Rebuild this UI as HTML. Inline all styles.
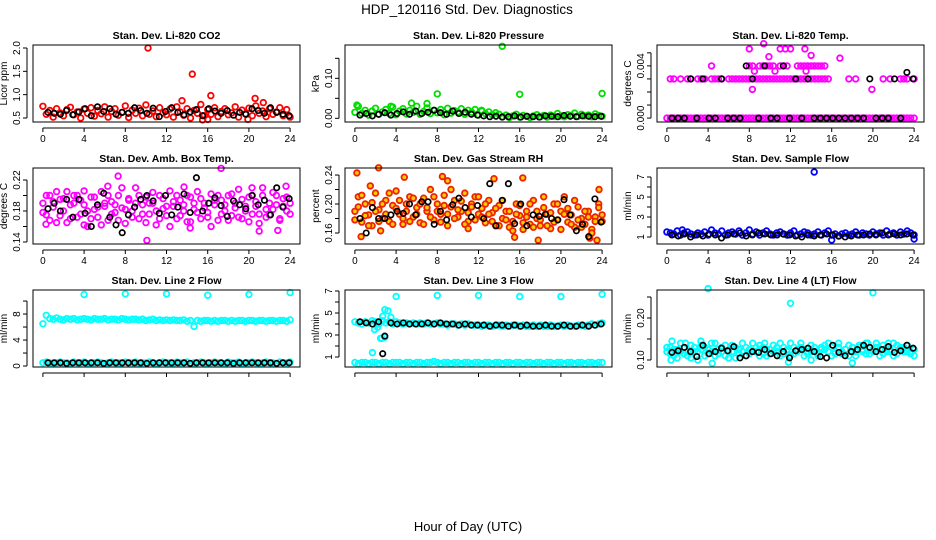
<!DOCTYPE html>
<html><head><meta charset="utf-8"><style>
body{margin:0;background:#fff;}
svg{display:block;font-family:"Liberation Sans",sans-serif;}
</style></head><body>
<svg id="chart" width="936" height="540" viewBox="0 0 936 540" xmlns="http://www.w3.org/2000/svg">
<rect width="936" height="540" fill="#fff"/>
<text x="467" y="14" text-anchor="middle" font-size="13.5">HDP_120116  Std. Dev. Diagnostics</text>
<text x="468" y="531" text-anchor="middle" font-size="13">Hour of Day (UTC)</text>
</svg>
<script>
// ---------- data ----------
const xTicks=[0,4,8,12,16,20,24];
const co2Col=[0.75,0.58,0.66,0.52,0.70,0.61,0.55,0.68,0.73,0.57,0.63,0.50,0.69,0.60,0.72,0.54,0.66,0.59,0.74,0.52,0.64,0.70,0.56,0.62,0.76,0.51,0.67,0.60,0.71,0.55,0.78,0.58,0.65,0.53,0.72,0.61,0.57,0.69,0.52,0.74,0.63,0.56,0.70,0.50,0.66,0.60,0.79,0.55,0.68,0.58,0.72,0.53,0.64,0.70,0.57,0.61,0.74,0.52,0.67,0.59,0.71,0.55,0.76,0.60,0.65,0.53,0.70,0.58,0.63,0.72,0.55,0.68,0.52];
const co2Blk=[0.62,0.60,0.58,0.66,0.57,0.63,0.70,0.55,0.74,0.64,0.70,0.58,0.62,0.60,0.72,0.66,0.60,0.71,0.53,0.64,0.72,0.62,0.57,0.63,0.68,0.55,0.70,0.65,0.60,0.66,0.56,0.62,0.58,0.70,0.66,0.60,0.72,0.62,0.58,0.55];
const co2OutX=[10.2,14.5,13.5,16.3,20.6,21.4,16.0,19.9,15.5];
const co2OutY=[2.0,1.44,0.87,0.98,0.92,0.83,0.47,0.47,0.46];
const presCol=[0.015,0.03,0.012,0.02,0.008,0.018,0.025,0.01,0.016,0.022,0.012,0.028,0.009,0.018,0.024,0.011,0.02,0.015,0.03,0.01,0.017,0.026,0.012,0.02,0.014,0.022,0.009,0.025,0.013,0.019,0.016,0.024,0.01,0.02,0.015,0.022,0.008,0.018,0.012,0.016,0.009,0.014,0.01,0.004,0.008,0.002,0.006,0.01,0.003,0.007,0.005,0.002,0.006,0.009,0.004,0.007,0.003,0.008,0.005,0.012,0.006,0.004,0.009,0.007,0.013,0.005,0.01,0.006,0.008,0.004,0.011,0.007,0.005];
const presBlk=[0.008,0.012,0.006,0.01,0.014,0.008,0.012,0.016,0.01,0.018,0.012,0.015,0.02,0.014,0.01,0.018,0.012,0.015,0.01,0.008,0.006,0.004,0.005,0.003,0.004,0.006,0.003,0.005,0.004,0.003,0.006,0.005,0.004,0.007,0.005,0.004,0.006,0.005,0.004,0.005];
const presOutX=[14.3,16,8,24,5.5,0.2,3.5,7,12.3];
const presOutY=[0.18,0.06,0.061,0.062,0.038,0.033,0.03,0.037,0.02];
const tempZero=[0,0,0,0,0,0,0,0,0,0,0,0,0,0,0,0,0,0,0,0,0,0,0,0,0,0,0,0,0,0,0,0,0,0,0,0,0,0,0,0,0,0,0,0,0,0,0,0,0,0,0,0,0,0,0,0,0,0,0,0,0,0,0,0,0,0,0,0,0,0,0,0,0];
const tempMid=[null,0.003,0.003,null,0.003,null,0.003,0.003,null,0.003,0.003,0.003,null,0.003,0.003,0.003,0.003,null,0.003,0.003,0.003,
0.003,0.003,0.003,0.003,0.003,0.003,0.003,0.003,0.003,0.003,0.003,0.003,0.003,0.003,0.003,0.003,0.003,0.003,0.003,0.003,0.003,0.003,0.003,0.003,0.003,0.003,0.003,
null,null,null,null,null,0.003,null,0.003,null,null,null,null,null,null,null,0.003,null,0.003,null,null,0.003,0.003,0.003,null,0.003];
const tempHigh=[null,null,null,null,null,null,null,null,null,null,null,null,null,0.004,null,null,null,null,null,null,null,null,null,null,
0.004,0.004,null,0.004,0.004,0.004,0.004,0.004,null,0.004,0.004,0.004,null,null,0.004,0.004,0.004,0.004,0.004,0.004,0.004,0.004,0.004,
null,null,null,null,null,null,null,null,null,null,null,null,null,null,null,null,null,null,null,null,null,null,null,null,null,null];
const tempOutX=[8,9.4,9.9,11,11.5,12,13.4,14,16.8,8.5,10.5,13.5,8.3,19.9];
const tempOutY=[0.0053,0.0057,0.0047,0.0053,0.0053,0.0053,0.0053,0.0048,0.0046,0.0036,0.0036,0.0036,0.0022,0.0022];
const tempBlk=[0,0,0,0.003,0,0.003,0,0,0.003,0,0,0,0.004,0.003,0,0.004,0,0,0.004,0,0.003,0,0.003,0,0,0,0,0,0,0,0,0,0.003,0,0,0,0.003,0,0.0035,0.003];
const ambA=[0.19,0.175,0.2,0.185,0.165,0.195,0.18,0.205,0.17,0.19,0.2,0.176,0.188,0.16,0.198,0.182,0.172,0.205,0.186,0.168,0.192,0.178,0.2,0.184,0.164,0.196,0.18,0.21,0.17,0.188,0.198,0.176,0.19,0.162,0.2,0.183,0.174,0.206,0.186,0.17,0.194,0.18,0.2,0.166,0.19,0.178,0.196,0.184,0.172,0.202,0.188,0.168,0.194,0.18,0.2,0.174,0.19,0.208,0.17,0.186,0.198,0.176,0.192,0.164,0.2,0.182,0.175,0.204,0.188,0.17,0.196,0.18,0.19];
const ambB=[0.178,0.2,0.168,0.192,0.205,0.174,0.196,0.165,0.188,0.2,0.172,0.194,0.206,0.18,0.17,0.198,0.185,0.162,0.19,0.2,0.176,0.188,0.168,0.21,0.182,0.194,0.172,0.19,0.2,0.176,0.165,0.19,0.204,0.18,0.17,0.196,0.186,0.16,0.192,0.2,0.174,0.188,0.166,0.198,0.182,0.205,0.17,0.19,0.178,0.16,0.194,0.2,0.176,0.188,0.168,0.202,0.184,0.172,0.195,0.18,0.166,0.2,0.186,0.176,0.21,0.172,0.19,0.182,0.2,0.168,0.186,0.198,0.176];
const ambOutX=[7.3,17.3,10.1,14.3,0.3,4,21,22.8,6.3,13.7,20.3,23.6];
const ambOutY=[0.225,0.235,0.142,0.158,0.163,0.162,0.154,0.155,0.212,0.211,0.21,0.212];
const ambBlk=[0.183,0.19,0.18,0.195,0.172,0.195,0.177,0.16,0.188,0.203,0.172,0.162,0.152,0.175,0.185,0.195,0.2,0.193,0.177,0.2,0.175,0.185,0.202,0.178,0.223,0.18,0.19,0.197,0.187,0.173,0.193,0.188,0.183,0.2,0.188,0.194,0.175,0.21,0.185,0.196];
const rhA=[0.19,0.21,0.175,0.2,0.185,0.17,0.215,0.192,0.18,0.205,0.176,0.198,0.218,0.186,0.172,0.2,0.21,0.182,0.195,0.174,0.208,0.19,0.22,0.178,0.2,0.186,0.212,0.17,0.196,0.205,0.182,0.19,0.215,0.176,0.2,0.21,0.186,0.194,0.174,0.205,0.188,0.17,0.198,0.18,0.19,0.168,0.176,0.2,0.184,0.165,0.19,0.172,0.205,0.18,0.17,0.195,0.186,0.166,0.2,0.178,0.19,0.21,0.175,0.185,0.168,0.196,0.18,0.172,0.19,0.165,0.182,0.2,0.176];
const rhB=[0.178,0.196,0.212,0.184,0.17,0.202,0.19,0.176,0.2,0.186,0.215,0.172,0.194,0.205,0.18,0.19,0.176,0.208,0.186,0.2,0.172,0.195,0.182,0.21,0.19,0.175,0.198,0.186,0.22,0.18,0.192,0.204,0.172,0.188,0.196,0.178,0.21,0.182,0.2,0.186,0.176,0.194,0.17,0.205,0.178,0.19,0.163,0.186,0.198,0.174,0.182,0.2,0.168,0.19,0.178,0.21,0.17,0.188,0.175,0.2,0.165,0.186,0.194,0.172,0.205,0.178,0.168,0.19,0.182,0.16,0.176,0.195,0.185];
const rhOutX=[0.2,2.3,4.8,8.5,9,13.5,16.3,17.8,22.8,23.5,0.6,2.5,11,15.5,23.7,1.5];
const rhOutY=[0.243,0.25,0.237,0.238,0.232,0.235,0.236,0.15,0.153,0.15,0.155,0.163,0.166,0.154,0.22,0.225];
const rhBlk=[0.18,0.16,0.195,0.18,0.18,0.185,0.19,0.187,0.2,0.185,0.203,0.203,0.172,0.19,0.178,0.199,0.208,0.195,0.182,0.198,0.18,0.228,0.17,0.205,0.228,0.173,0.2,0.17,0.185,0.183,0.186,0.18,0.178,0.206,0.185,0.163,0.172,0.155,0.207,0.175];
const flowCol=[1.5,1.4,1.3,1.6,1.2,1.4,1.5,1.3,1.2,1.4,1.3,1.5,1.2,1.7,1.4,1.3,1.6,1.2,1.4,1.5,1.3,1.6,1.2,1.4,1.7,1.3,1.5,1.2,1.4,1.6,1.3,1.2,1.4,1.5,1.3,1.2,1.4,1.6,1.2,1.3,1.5,1.4,1.2,1.3,1.5,1.2,1.4,1.6,1.2,1.3,1.1,1.3,1.4,1.2,1.3,1.5,1.2,1.4,1.3,1.2,1.5,1.3,1.4,1.2,1.6,1.3,1.4,1.2,1.5,1.3,1.6,1.4,1.2];
const flowBlk=[1.2,1.1,1.3,1.0,1.2,1.1,1.3,1.2,0.9,1.2,1.3,1.4,1.1,1.2,1.4,1.3,1.2,1.2,1.3,1.2,1.1,1.0,1.2,1.1,1.2,1.3,1.2,1.1,1.0,1.1,1.2,1.2,1.3,1.2,1.4,1.2,1.3,1.2,1.3,1.2];
const flowOutX=[14.3,16,24,1.5];
const flowOutY=[7.5,0.7,0.8,1.7];
const l2Top=[6.5,7.8,7.3,7.2,7.4,7.2,7.1,7.3,7.2,7.3,7.1,7.2,7.3,7.2,7.1,7.3,7.2,7.2,7.3,7.1,7.2,7.2,7.1,7.3,7.2,7.1,7.2,7.2,7.1,7.2,7.0,7.1,7.2,7.0,7.1,7.0,7.1,7.0,7.1,7.0,7.0,7.1,6.9,7.0,6.1,7.0,6.9,7.0,7.0,6.9,7.0,6.9,7.0,7.0,6.9,7.0,6.9,7.0,7.0,6.9,7.0,7.0,6.9,7.0,7.0,6.9,7.0,7.0,6.9,7.0,7.0,6.9,7.1];
const l2Bot=[0.5,0.6,0.5,0.4,0.5,0.6,0.5,0.5,0.4,0.6,0.5,0.5,0.6,0.4,0.5,0.5,0.6,0.5,0.4,0.5,0.6,0.5,0.5,0.4,0.6,0.5,0.5,0.6,0.4,0.5,0.5,0.6,0.5,0.4,0.5,0.6,0.5,0.5,0.4,0.6,0.5,0.5,0.6,0.4,0.5,0.5,0.6,0.5,0.4,0.5,0.6,0.5,0.5,0.4,0.6,0.5,0.5,0.6,0.4,0.5,0.5,0.6,0.5,0.4,0.5,0.6,0.5,0.5,0.4,0.6,0.5,0.5,0.6];
const l2Blk=[0.5,0.5,0.5,0.4,0.5,0.5,0.5,0.5,0.5,0.4,0.5,0.5,0.5,0.5,0.5,0.5,0.4,0.5,0.5,0.5,0.5,0.5,0.5,0.4,0.5,0.5,0.5,0.5,0.5,0.5,0.4,0.5,0.5,0.5,0.5,0.5,0.5,0.4,0.5,0.5];
const l2OutX=[4,8,12,16,20,24];
const l2OutY=[11,11.1,11.1,10.9,11,11.3];
const l3Mid=[4.2,4.1,4.0,4.2,4.1,4.3,4.2,4.0,4.3,4.1,4.2,4.0,4.2,4.1,4.0,4.1,4.0,4.1,4.0,4.1,4.0,4.1,4.0,4.0,4.1,4.0,4.0,3.9,4.0,4.0,3.9,4.0,3.9,4.0,3.9,3.9,3.9,3.8,3.9,3.9,3.8,3.9,3.9,3.8,3.9,3.8,3.9,3.9,3.8,3.9,3.8,3.8,3.9,3.8,3.9,3.8,3.8,3.9,3.8,3.8,3.9,3.8,3.9,3.8,3.8,3.9,3.9,3.8,3.9,4.0,3.9,4.0,4.1];
const l3Bot=[0.5,0.4,0.5,0.5,0.4,0.5,0.5,0.4,0.5,0.5,0.4,0.5,0.5,0.5,0.4,0.5,0.5,0.4,0.5,0.5,0.4,0.5,0.5,0.6,0.5,0.4,0.5,0.5,0.4,0.5,0.5,0.4,0.5,0.5,0.4,0.5,0.5,0.4,0.5,0.5,0.4,0.5,0.5,0.4,0.5,0.5,0.4,0.5,0.5,0.4,0.5,0.5,0.4,0.5,0.5,0.4,0.5,0.5,0.4,0.5,0.5,0.4,0.5,0.5,0.4,0.5,0.5,0.4,0.5,0.5,0.4,0.5,0.5];
const l3Blk=[4.2,4.1,4.0,4.2,2.9,4.1,4.0,4.1,4.0,4.0,4.0,4.1,4.0,4.1,4.0,4.0,3.9,4.0,3.9,3.9,3.9,3.8,3.9,3.9,3.8,3.9,3.8,3.9,3.8,3.8,3.9,3.8,3.8,3.9,3.8,3.8,3.9,3.8,3.9,4.0];
const l3OutX=[1.9,2.2,2.5,2.9,2.7,2.9,3.2,3.5,1.7,2.6,4,8,12,16,20,24];
const l3OutY=[3.5,3.7,2.7,2.8,4.7,5.3,5.2,4.6,1.4,2.7,6.5,6.6,6.6,6.5,6.5,6.7];
const l3BlkOutX=[2.7];
const l3BlkOutY=[1.3];
const l4A=[0.12,0.13,0.11,0.125,0.14,0.115,0.12,0.105,0.13,0.12,0.135,0.11,0.125,0.12,0.14,0.115,0.13,0.11,0.12,0.135,0.105,0.125,0.12,0.13,0.115,0.14,0.12,0.11,0.13,0.125,0.115,0.135,0.12,0.11,0.13,0.12,0.14,0.115,0.125,0.13,0.11,0.12,0.135,0.12,0.115,0.13,0.125,0.14,0.11,0.12,0.13,0.115,0.125,0.135,0.12,0.11,0.13,0.12,0.14,0.115,0.125,0.13,0.11,0.135,0.12,0.125,0.14,0.115,0.13,0.12,0.135,0.12,0.11];
const l4B=[0.13,0.115,0.125,0.105,0.12,0.13,0.11,0.135,0.12,0.1,0.125,0.13,0.115,0.14,0.11,0.125,0.12,0.135,0.105,0.12,0.13,0.115,0.14,0.11,0.125,0.12,0.13,0.135,0.115,0.11,0.125,0.12,0.13,0.14,0.115,0.125,0.11,0.13,0.12,0.14,0.125,0.115,0.12,0.13,0.11,0.125,0.135,0.12,0.13,0.115,0.14,0.12,0.125,0.11,0.13,0.12,0.135,0.125,0.115,0.13,0.12,0.14,0.125,0.115,0.13,0.12,0.11,0.135,0.125,0.13,0.12,0.115,0.125];
const l4OutX=[4,12,20,0.5,1.8,3.3,4.4,9.5,11.8,14,18,19.5,21.5,0.4];
const l4OutY=[0.27,0.235,0.26,0.145,0.14,0.145,0.092,0.14,0.095,0.1,0.093,0.14,0.14,0.1];
const l4Blk=[0.118,0.122,0.13,0.12,0.108,0.135,0.115,0.12,0.128,0.122,0.132,0.105,0.11,0.12,0.118,0.125,0.115,0.11,0.12,0.105,0.122,0.125,0.128,0.12,0.108,0.105,0.135,0.118,0.11,0.12,0.125,0.135,0.13,0.12,0.125,0.132,0.118,0.122,0.135,0.128];

// ---------- layout ----------
const NS="http://www.w3.org/2000/svg";
const svg=document.getElementById('chart');
function el(tag,attrs,parent){const e=document.createElementNS(NS,tag);for(const k in attrs)e.setAttribute(k,attrs[k]);(parent||svg).appendChild(e);return e;}
const lefts=[33,345,657],tops=[45,168,290],hts=[77,76,77],W=267;
const panels=[
 {name:'co2',title:'Stan. Dev. Li-820 CO2',ylab:'Licor ppm',ymin:0.414,ymax:2.064,ticks:[0.5,1.0,1.5,2.0],labels:['0.5','1.0','1.5','2.0'],col:'#ff0000',fill:'none',
  series:[[co2Col,'col'],[co2Blk,'blk']],outs:[[co2OutX,co2OutY,'col']]},
 {name:'pressure',title:'Stan. Dev. Li-820 Pressure',ylab:'kPa',ymin:-0.0092,ymax:0.1833,ticks:[0,0.05,0.10,0.15],labels:['0.00','','0.10',''],col:'#00dd00',fill:'none',
  series:[[presCol,'col'],[presBlk,'blk']],outs:[[presOutX,presOutY,'col']]},
 {name:'licor-temp',title:'Stan. Dev. Li-820 Temp.',ylab:'degrees C',ymin:-0.0003,ymax:0.0056,ticks:[0,0.001,0.002,0.003,0.004,0.005],labels:['0.000','','','','0.004',''],col:'#ff00ff',fill:'none',
  series:[[tempZero,'col'],[tempMid,'col'],[tempHigh,'col'],[tempBlk,'blk']],outs:[[tempOutX,tempOutY,'col']]},
 {name:'amb-box-temp',title:'Stan. Dev. Amb. Box Temp.',ylab:'degrees C',ymin:0.1374,ymax:0.2355,ticks:[0.14,0.16,0.18,0.20,0.22],labels:['0.14','','0.18','','0.22'],col:'#ff00ff',fill:'none',
  series:[[ambA,'col'],[ambB,'col'],[ambBlk,'blk']],outs:[[ambOutX,ambOutY,'col']]},
 {name:'gas-stream-rh',title:'Stan. Dev. Gas Stream RH',ylab:'percent',ymin:0.1448,ymax:0.2497,ticks:[0.16,0.18,0.20,0.22,0.24],labels:['0.16','','0.20','','0.24'],col:'#ee2200',fill:'#ffcc00',
  series:[[rhA,'col'],[rhB,'col'],[rhBlk,'blk']],outs:[[rhOutX,rhOutY,'col']]},
 {name:'sample-flow',title:'Stan. Dev. Sample Flow',ylab:'ml/min',ymin:0.3,ymax:7.9,ticks:[1,2,3,4,5,6,7],labels:['1','','3','','5','','7'],col:'#0000ff',fill:'none',
  series:[[flowCol,'col'],[flowBlk,'blk']],outs:[[flowOutX,flowOutY,'col']]},
 {name:'line2-flow',title:'Stan. Dev. Line 2 Flow',ylab:'ml/min',ymin:-0.15,ymax:11.7,ticks:[0,2,4,6,8,10],labels:['0','','4','','8',''],col:'#00ffff',fill:'none',noX:true,
  series:[[l2Top,'col'],[l2Bot,'col'],[l2Blk,'blk']],outs:[[l2OutX,l2OutY,'col']]},
 {name:'line3-flow',title:'Stan. Dev. Line 3 Flow',ylab:'ml/min',ymin:0.09,ymax:7.09,ticks:[1,2,3,4,5,6,7],labels:['1','','3','','5','','7'],col:'#00ffff',fill:'none',noX:true,
  series:[[l3Mid,'col'],[l3Bot,'col'],[l3Blk,'blk']],outs:[[l3OutX,l3OutY,'col'],[l3BlkOutX,l3BlkOutY,'blk']]},
 {name:'line4-flow',title:'Stan. Dev. Line 4 (LT) Flow',ylab:'ml/min',ymin:0.0833,ymax:0.2667,ticks:[0.10,0.15,0.20,0.25],labels:['0.10','','0.20',''],col:'#00ffff',fill:'none',noX:true,
  series:[[l4A,'col'],[l4B,'col'],[l4Blk,'blk']],outs:[[l4OutX,l4OutY,'col']]}
];
panels.forEach((p,idx)=>{
 const L=lefts[idx%3],T=tops[Math.floor(idx/3)],H=hts[Math.floor(idx/3)],B=T+H;
 const g=el('g',{});
 
 
 const xs=v=>L+(v+0.96)/25.92*W;
 const ys=v=>B-(v-p.ymin)/(p.ymax-p.ymin)*H;
 const t=el('text',{x:L+W/2,y:T-6,'text-anchor':'middle','font-size':'10.5','font-weight':'bold'},g);
 t.textContent=p.title;
 
 
 const pts=el('g',{},g);
 
 
 function dot(x,y,kind){
  if(y===null||y===undefined)return;
  const c=el('circle',{cx:xs(x).toFixed(1),cy:ys(y).toFixed(1),r:kind==='blk'?2.7:2.8,fill:kind==='blk'?'none':p.fill,stroke:kind==='blk'?'#000':p.col,'stroke-width':kind==='blk'?1.7:1.8},pts);
  
  
 }
 p.series.filter(s=>s[1]==='col').forEach(s=>{const a=s[0];a.forEach((v,i)=>dot(i*24/(a.length-1),v,'col'));});
 p.outs.filter(o=>o[2]==='col').forEach(o=>o[0].forEach((x,i)=>dot(x,o[1][i],'col')));
 p.series.filter(s=>s[1]==='blk').forEach(s=>{const a=s[0];a.forEach((v,i)=>dot(0.5+i*23.4/(a.length-1),v,'blk'));});
 p.outs.filter(o=>o[2]==='blk').forEach(o=>o[0].forEach((x,i)=>dot(x,o[1][i],'blk')));
 const box=el('rect',{x:L,y:T,width:W,height:H,fill:'none',stroke:'#000','stroke-width':1},g);
 
 
 const xa=el('g',{},g);
 
 
 el('line',{x1:xs(0),x2:xs(24),y1:B+6,y2:B+6,stroke:'#000'},xa);
 xTicks.forEach(v=>{
  el('line',{x1:xs(v),x2:xs(v),y1:B+6,y2:B+10,stroke:'#000'},xa);
  if(!p.noX){const tx=el('text',{x:xs(v),y:B+20,'text-anchor':'middle','font-size':'10'},xa);tx.textContent=v;}
 });
 const ya=el('g',{},g);
 
 
 el('line',{x1:L-6,x2:L-6,y1:ys(p.ticks[0]),y2:ys(p.ticks[p.ticks.length-1]),stroke:'#000'},ya);
 p.ticks.forEach((v,i)=>{
  el('line',{x1:L-10,x2:L-6,y1:ys(v),y2:ys(v),stroke:'#000'},ya);
  if(p.labels[i]){const ty=el('text',{x:L-13,y:ys(v),'text-anchor':'middle','font-size':'10',transform:`rotate(-90 ${L-13} ${ys(v)})`},ya);ty.textContent=p.labels[i];}
 });
 const yl=el('text',{x:L-26,y:T+H/2,'text-anchor':'middle','font-size':'10',transform:`rotate(-90 ${L-26} ${T+H/2})`},g);
 yl.textContent=p.ylab;
 
 
});
</script>
</body></html>
